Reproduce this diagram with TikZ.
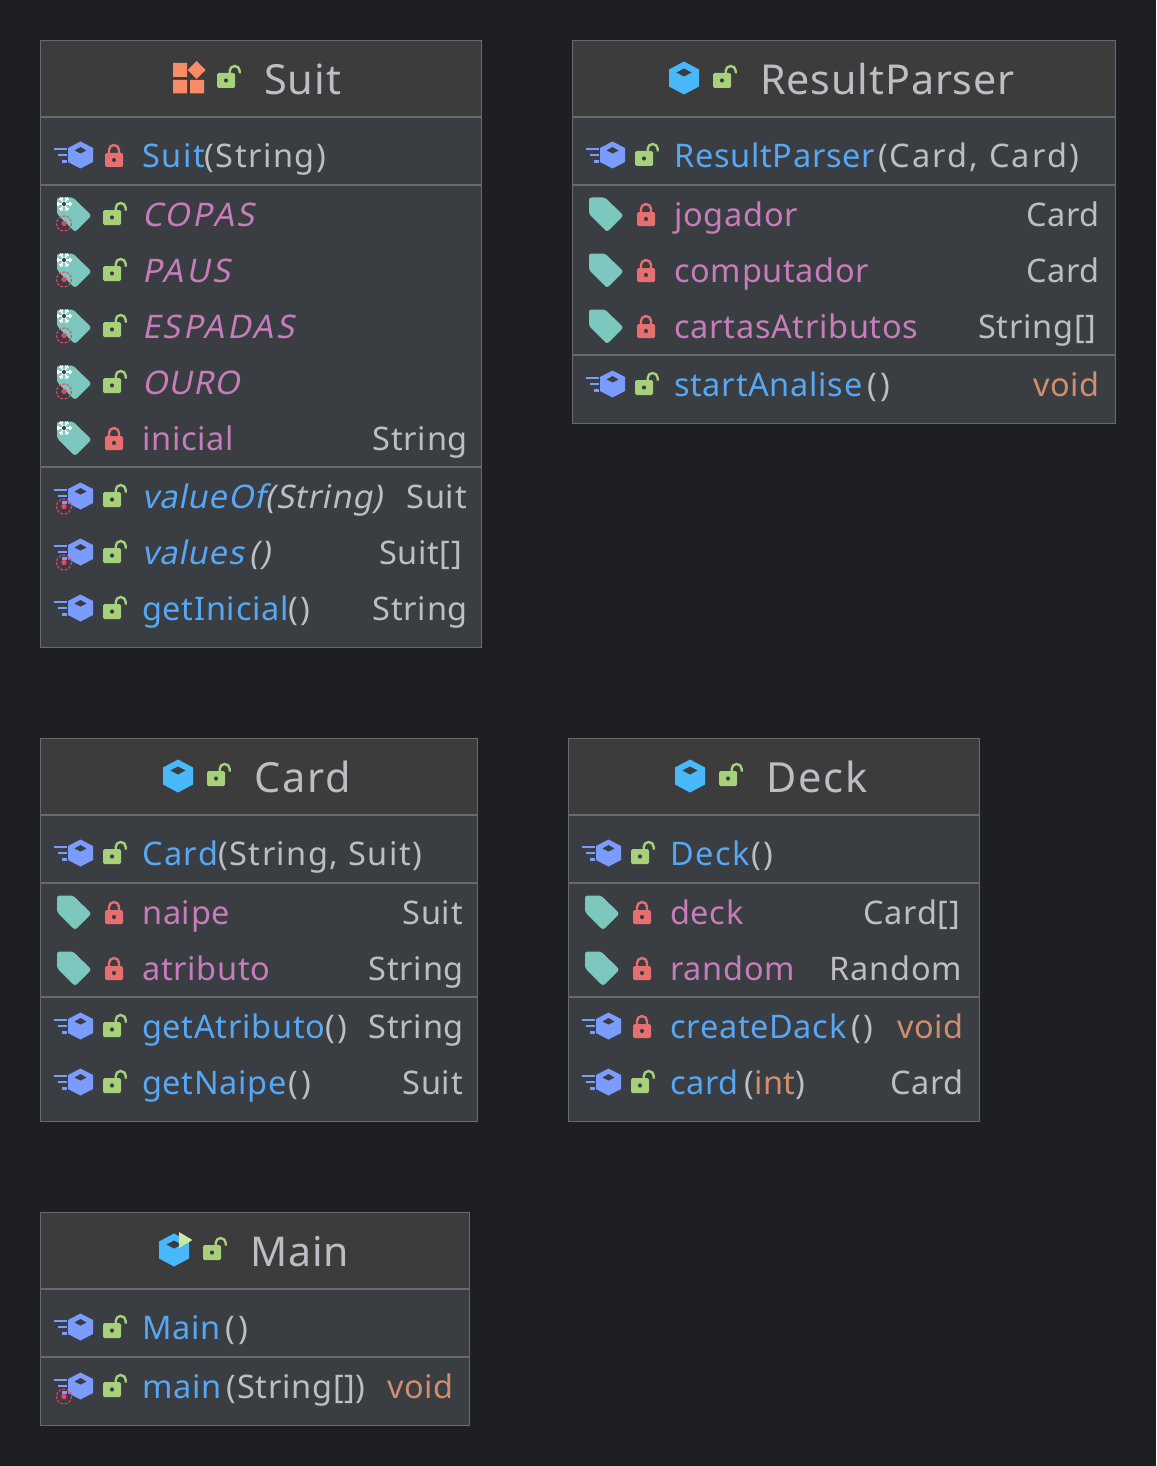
\documentclass[tikz,border=0pt]{standalone}
\usepackage{fontspec}
\setmainfont{Noto Sans}[LetterSpace=2.2]
\newfontfamily\oblq{Noto Sans}[FakeSlant=0.2,LetterSpace=2.7]
\newfontfamily\oblqcaps{Noto Sans}[FakeSlant=0.2,LetterSpace=8]
\newfontfamily\wide{Noto Sans}[LetterSpace=4.6]
\newfontfamily\widest{Noto Sans}[LetterSpace=6.5]
\definecolor{pagebg}{HTML}{1E1F22}
\definecolor{headbg}{HTML}{3C3C3C}
\definecolor{bodybg}{HTML}{3A3D41}
\definecolor{rulec}{HTML}{6A6A6A}
\definecolor{bluen}{HTML}{56A8F5}
\definecolor{grayt}{HTML}{BCBEC4}
\definecolor{purp}{HTML}{C77DBB}
\definecolor{voidc}{HTML}{CF8E6D}
\definecolor{lockc}{HTML}{E86F6F}
\definecolor{unlockc}{HTML}{A6D17A}
\definecolor{tagc}{HTML}{7CC8BF}
\definecolor{methc}{HTML}{7B9CFF}
\definecolor{classc}{HTML}{48B8FB}
\definecolor{enumc}{HTML}{F98B67}
\definecolor{playc}{HTML}{C8EA9E}
\definecolor{targetc}{HTML}{F0406A}
\tikzset{
  rowtxt/.style={anchor=base west,inner sep=0pt,xshift=-1pt,yshift=-0.6pt,font=\fontsize{32.5}{36}\selectfont,text=grayt},
  ctortxt/.style={rowtxt,yshift=1pt},
  typetxt/.style={anchor=base east,inner sep=0pt,xshift=1pt,yshift=-0.6pt,font=\fontsize{32.5}{36}\selectfont,text=grayt},
  voidtxt/.style={typetxt,text=voidc},
  titletxt/.style={anchor=base west,inner sep=0pt,xshift=-1pt,yshift=0.7pt,font=\fontsize{41.5}{46}\selectfont,text=grayt},
  panelbox/.style={draw=rulec,line width=1.4pt,fill=bodybg,anchor=north west,inner sep=0pt},
  rulel/.style={draw=rulec,line width=2pt},
  pics/cube/.style={code={
    \fill[classc] (0,-16.5)--(15,-8.5)--(15,8.5)--(0,16.5)--(-15,8.5)--(-15,-8.5)--cycle;
    \fill[headbg] (0,-9.5)--(7.5,-5.5)--(0,-1.5)--(-7.5,-5.5)--cycle;}},
  pics/meth/.style={code={
    \fill[methc] (-26.5,-7.3) rectangle (-14,-4.7);
    \fill[methc] (-23,-1.3) rectangle (-14,1.3);
    \fill[methc] (-19,5.2) rectangle (-14,7.8);
    \fill[methc] (0,-13.5)--(12.5,-7)--(12.5,7)--(0,13.5)--(-12.5,7)--(-12.5,-7)--cycle;
    \fill[bodybg] (0,-8)--(6,-4.5)--(0,-1.5)--(-6,-4.5)--cycle;}},
  pics/lockp/.style={code={
    \fill[lockc,rounded corners=1.5pt] (-9,-2) rectangle (9,12);
    \draw[lockc,line width=2.4pt] (-5,-1) -- (-5,-5) arc[start angle=180,end angle=360,radius=5] -- (5,-1);
    \fill[bodybg] (0,5) circle[radius=2.1];}},
  pics/unlockp/.style={code={
    \fill[unlockc,rounded corners=1.5pt] (-11,-4) rectangle (7,11);
    \draw[unlockc,line width=2.4pt] (1.7,-3) -- (1.7,-6) arc[start angle=180,end angle=360,radius=5] -- (11.7,-3.5);
    \fill[bodybg] (-2,3.5) circle[radius=2.1];}},
  pics/tagp/.style={code={
    \fill[tagc,rounded corners=2.5pt] (-17,-16.5)--(-1,-16.5)--(17.5,1.5)--(1,18)--(-17,0)--cycle;}},
  pics/freeze/.style={code={
    \foreach \a in {0,60,120}{\draw[white,line width=1.5pt,rotate=\a] (-7.5,0)--(7.5,0);
      \draw[white,line width=1.1pt,rotate=\a] (-6.5,-2)--(-4.5,0)--(-6.5,2) (6.5,-2)--(4.5,0)--(6.5,2);}
    \fill[bodybg] (0,0) circle[radius=2];}},
  pics/target/.style={code={
    \draw[targetc,line width=1.1pt,dash pattern=on 2.6pt off 1.6pt] (0,0) circle[radius=7.5];
    \fill[targetc] (0,0) circle[radius=2.7];}},
}
\newcommand{\panelbox}[6]{%
  \pgfmathsetlengthmacro{\pw}{(#4)-(#2)}\pgfmathsetlengthmacro{\ph}{(#5)-(#3)}%
  \node[panelbox,minimum width=\pw,minimum height=\ph] (#1) at (#2,#3) {};
  \fill[headbg] (#2+1,#3+1) rectangle (#4-1,#6);
  \draw[rulel] (#2,#6) -- (#4,#6);}
\newcommand{\sepl}[3]{\draw[rulel] (#1,#3) -- (#2,#3);}
\newcommand{\methI}[2]{\pic at (#1+40.5,#2) {meth};}
\newcommand{\staticI}[2]{\pic at (#1+24,#2+10.5) {target};}
\newcommand{\lockI}[2]{\pic at (#1+74,#2) {lockp};}
\newcommand{\unlockI}[2]{\pic at (#1+74,#2) {unlockp};}
\newcommand{\tagI}[2]{\pic at (#1+34,#2) {tagp};}
\newcommand{\freezeI}[2]{\pic at (#1+24,#2-10) {freeze};}
\newcommand{\targetI}[2]{\pic at (#1+24,#2+9.5) {target};}
\newcommand{\nm}[1]{\textcolor{bluen}{#1}}
\newcommand{\pr}[1]{\textcolor{purp}{#1}}
\newcommand{\ep}{\textbf{\textcolor{grayt}{(\hspace{2.5pt})}}}
\begin{document}
\begin{tikzpicture}[x=1pt,y=-1pt]
\useasboundingbox (0,0) rectangle (1156,1466);
\fill[pagebg] (0,0) rectangle (1156,1466);

% ---- Suit
\panelbox{suit}{40}{40}{481}{647}{117}
\sepl{40}{481}{185}\sepl{40}{481}{467}
\fill[enumc] (173,63) rectangle (187,77) (173,80) rectangle (187,93.5) (190,80) rectangle (204,93.5);
\fill[enumc] (196.5,61)--(205.5,70)--(196.5,79)--(187.5,70)--cycle;
\pic at (228,77) {unlockp};
\node[titletxt] (suitT) at (265,95) {Suit};
\methI{40}{155}\lockI{40}{155}
\node[ctortxt] (suitC) at (143,168) {\wide\nm{Suit}(String)};
\foreach \y/\n/\t in {214/a/COPAS,270/b/PAUS,326/c/ESPADAS}{
  \tagI{40}{\y}\freezeI{40}{\y}\targetI{40}{\y}\unlockI{40}{\y}
  \node[rowtxt] (suit\n) at (143,\y+12) {\pr{\oblqcaps\t}};}
\tagI{40}{382}\freezeI{40}{382}\targetI{40}{382}\unlockI{40}{382}
\node[rowtxt] (suitd) at (143,394) {\pr{\oblq OURO}};
\tagI{40}{438}\freezeI{40}{438}\lockI{40}{438}
\node[rowtxt] (suitI) at (143,450) {\pr{inicial}};
\node[typetxt] (suitIt) at (467,450) {String};
\methI{40}{496}\staticI{40}{496}\unlockI{40}{496}
\node[rowtxt] (suitV) at (143,508) {\oblq\nm{valueOf}(String)};
\node[typetxt] (suitVt) at (466,508) {Suit};
\methI{40}{552}\staticI{40}{552}\unlockI{40}{552}
\node[rowtxt] (suitW) at (143,564) {\oblq\nm{values}\,(\hspace{2pt})};
\node[typetxt] (suitWt) at (462,564) {Suit\textbf{[]}};
\methI{40}{608}\unlockI{40}{608}
\node[rowtxt] (suitG) at (143,620) {\nm{getInicial}\ep};
\node[typetxt] (suitGt) at (467,620) {String};

% ---- ResultParser
\panelbox{rp}{572}{40}{1115}{423}{117}
\sepl{572}{1115}{185}\sepl{572}{1115}{355}
\pic at (684,78) {cube};
\pic at (724,77) {unlockp};
\node[titletxt,font=\fontsize{41.2}{46}\selectfont] (rpT) at (761,95) {ResultParser};
\methI{572}{155}\unlockI{572}{155}
\node[ctortxt] (rpC) at (675,168) {\nm{ResultParser}\hspace{3pt}{\widest(Card, Card)}};
\tagI{572}{214}\lockI{572}{214}
\node[rowtxt] (rpJ) at (675,226) {\pr{jogador}};
\node[typetxt] (rpJt) at (1099,226) {Card};
\tagI{572}{270}\lockI{572}{270}
\node[rowtxt] (rpK) at (675,282) {\pr{computador}};
\node[typetxt] (rpKt) at (1099,282) {Card};
\tagI{572}{326}\lockI{572}{326}
\node[rowtxt] (rpL) at (675,338) {\pr{cartasAtributos}};
\node[typetxt] (rpLt) at (1096,338) {String\textbf{[]}};
\methI{572}{384}\unlockI{572}{384}
\node[rowtxt] (rpS) at (675,396) {\nm{startAnalise}\,\ep};
\node[voidtxt] (rpSt) at (1099,396) {void};

% ---- Card
\panelbox{card}{40}{738}{477}{1121}{815}
\sepl{40}{477}{883}\sepl{40}{477}{997}
\pic at (178,776) {cube};
\pic at (218,775) {unlockp};
\node[titletxt] (cardT) at (255,793) {\wide Card};
\methI{40}{853}\unlockI{40}{853}
\node[ctortxt] (cardC) at (143,866) {\wide\nm{Card}(String, Suit)};
\tagI{40}{912}\lockI{40}{912}
\node[rowtxt] (cardN) at (143,924) {\pr{naipe}};
\node[typetxt] (cardNt) at (462,924) {Suit};
\tagI{40}{968}\lockI{40}{968}
\node[rowtxt] (cardA) at (143,980) {\pr{atributo}};
\node[typetxt] (cardAt) at (463,980) {String};
\methI{40}{1026}\unlockI{40}{1026}
\node[rowtxt] (cardG) at (143,1038) {\nm{getAtributo}\ep};
\node[typetxt] (cardGt) at (463,1038) {String};
\methI{40}{1082}\unlockI{40}{1082}
\node[rowtxt] (cardH) at (143,1094) {\nm{getNaipe}\hspace{2pt}\ep};
\node[typetxt] (cardHt) at (462,1094) {Suit};

% ---- Deck
\panelbox{deck}{568}{738}{979}{1121}{815}
\sepl{568}{979}{883}\sepl{568}{979}{997}
\pic at (690,776) {cube};
\pic at (730,775) {unlockp};
\node[titletxt] (deckT) at (767,793) {\wide Deck};
\methI{568}{853}\unlockI{568}{853}
\node[ctortxt] (deckC) at (671,866) {\nm{\wide Deck}\hspace{2pt}\ep};
\tagI{568}{912}\lockI{568}{912}
\node[rowtxt] (deckD) at (671,924) {\pr{deck}};
\node[typetxt] (deckDt) at (960,924) {Card\textbf{[]}};
\tagI{568}{968}\lockI{568}{968}
\node[rowtxt] (deckR) at (671,980) {\pr{random}};
\node[typetxt] (deckRt) at (961,980) {Random};
\methI{568}{1026}\lockI{568}{1026}
\node[rowtxt] (deckM) at (671,1038) {\nm{createDack}\hspace{5pt}\ep};
\node[voidtxt] (deckMt) at (963,1038) {void};
\methI{568}{1082}\unlockI{568}{1082}
\node[rowtxt] (deckK) at (671,1094) {\nm{card}\,(\textcolor{voidc}{int})};
\node[typetxt] (deckKt) at (963,1094) {Card};

% ---- Main
\panelbox{main}{40}{1212}{469}{1425}{1289}
\sepl{40}{469}{1357}
\pic at (174,1250) {cube};
\fill[playc] (179,1232)--(192.5,1240)--(179,1248)--cycle;
\pic at (214,1249) {unlockp};
\node[titletxt,font=\fontsize{41}{46}\selectfont] (mainT) at (251,1267) {Main};
\methI{40}{1327}\unlockI{40}{1327}
\node[ctortxt] (mainC) at (143,1340) {\nm{Main}\,\ep};
\methI{40}{1386}\staticI{40}{1386}\unlockI{40}{1386}
\node[rowtxt] (mainM) at (143,1398) {\nm{main}\,(String\textbf{[]})};
\node[voidtxt] (mainMt) at (453,1398) {void};
\end{tikzpicture}
\end{document}
